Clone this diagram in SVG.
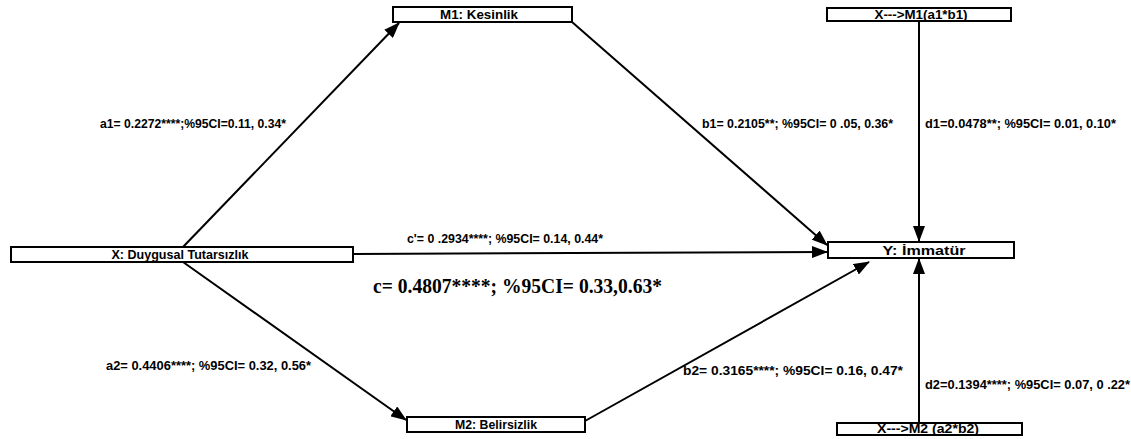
<svg xmlns="http://www.w3.org/2000/svg" width="1131" height="439" viewBox="0 0 1131 439">
<style>
.box{fill:#fff;stroke:#000;stroke-width:2}
.bt{font-family:"Liberation Sans",Arial,sans-serif;font-weight:bold;font-size:13px;fill:#000;text-anchor:middle}
.lbl{font-family:"Liberation Sans",Arial,sans-serif;font-weight:bold;font-size:13px;fill:#000}
.big{font-family:"Liberation Serif","Times New Roman",serif;font-weight:bold;font-size:20px;fill:#000}
.edge{stroke:#000;stroke-width:2;fill:none;marker-end:url(#ah)}
</style>
<defs>
<marker id="ah" viewBox="0 0 16 12" refX="15" refY="6" markerWidth="16" markerHeight="12" markerUnits="userSpaceOnUse" orient="auto">
<path d="M0,0 L16,6 L0,12 Z" fill="#000"/>
</marker>
</defs>
<rect width="1131" height="439" fill="#fff"/>
<g id="connectors">
<line class="edge" x1="183" y1="247" x2="399" y2="23"/>
<line class="edge" x1="572" y1="22" x2="827" y2="245"/>
<line class="edge" x1="353" y1="254" x2="827" y2="252"/>
<line class="edge" x1="183" y1="262" x2="406" y2="420"/>
<line class="edge" x1="585" y1="421" x2="869" y2="262"/>
<line class="edge" x1="919" y1="21" x2="919" y2="241"/>
<line class="edge" x1="919" y1="423" x2="919" y2="259"/>
</g>
<g id="labels">
<text class="lbl" x="100" y="128" textLength="186" lengthAdjust="spacingAndGlyphs">a1= 0.2272****;%95CI=0.11, 0.34*</text>
<text class="lbl" x="702" y="128" textLength="191" lengthAdjust="spacingAndGlyphs">b1= 0.2105**; %95CI= 0 .05, 0.36*</text>
<text class="lbl" x="925" y="128" textLength="191" lengthAdjust="spacingAndGlyphs">d1=0.0478**; %95CI= 0.01, 0.10*</text>
<text class="lbl" x="407" y="243" textLength="196" lengthAdjust="spacingAndGlyphs">c'= 0 .2934****; %95CI= 0.14, 0.44*</text>
<text class="big" x="373" y="293" textLength="289" lengthAdjust="spacingAndGlyphs">c= 0.4807****; %95CI= 0.33,0.63*</text>
<text class="lbl" x="106" y="370" textLength="205" lengthAdjust="spacingAndGlyphs">a2= 0.4406****; %95CI= 0.32, 0.56*</text>
<text class="lbl" x="683" y="375" textLength="220" lengthAdjust="spacingAndGlyphs">b2= 0.3165****; %95CI= 0.16, 0.47*</text>
<text class="lbl" x="925" y="389" textLength="205" lengthAdjust="spacingAndGlyphs">d2=0.1394****; %95CI= 0.07, 0 .22*</text>
</g>
<g id="node-m1">
<rect class="box" x="393" y="7" width="179" height="15"/>
<text class="bt" x="479" y="19" textLength="78" lengthAdjust="spacingAndGlyphs">M1: Kesinlik</text>
</g>
<g id="node-xm1">
<rect class="box" x="827" y="8" width="184" height="13"/>
<text class="bt" x="921" y="19" textLength="93" lengthAdjust="spacingAndGlyphs">X---&gt;M1(a1*b1)</text>
</g>
<g id="node-x">
<rect class="box" x="11" y="247" width="342" height="15"/>
<text class="bt" x="180" y="259" textLength="137" lengthAdjust="spacingAndGlyphs">X: Duygusal Tutarsızlık</text>
</g>
<g id="node-y">
<rect class="box" x="828" y="242" width="186" height="16"/>
<text class="bt" x="924" y="255" textLength="83" lengthAdjust="spacingAndGlyphs">Y: İmmatür</text>
</g>
<g id="node-m2">
<rect class="box" x="407" y="417" width="178" height="15"/>
<text class="bt" x="496" y="429" textLength="82" lengthAdjust="spacingAndGlyphs">M2: Belirsizlik</text>
</g>
<g id="node-xm2">
<rect class="box" x="837" y="423" width="185" height="12"/>
<text class="bt" x="928" y="433" textLength="102" lengthAdjust="spacingAndGlyphs">X---&gt;M2 (a2*b2)</text>
</g>
</svg>
